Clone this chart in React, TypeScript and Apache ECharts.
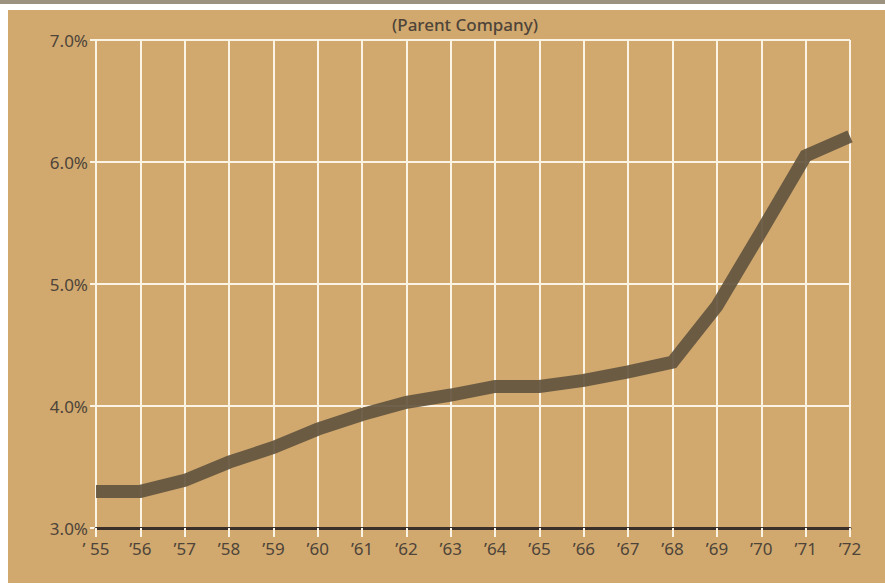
import React, { useEffect, useRef } from "react";
import * as echarts from "echarts";

const years = ["’ 55", "’56", "’57", "’58", "’59", "’60", "’61", "’62", "’63", "’64", "’65", "’66", "’67", "’68", "’69", "’70", "’71", "’72"];
const ratioValues = [3.3, 3.3, 3.39, 3.54, 3.66, 3.81, 3.93, 4.03, 4.09, 4.16, 4.16, 4.21, 4.28, 4.36, 4.82, 5.43, 6.05, 6.21];
const yTicks = [3, 4, 5, 6, 7];
const titleText = "(Parent Company)";

const FONT = "'Noto Sans', 'DejaVu Sans', sans-serif";
const TEXT = "#4e4439";
const GRIDC = "#fbf3e3";

export default function App() {
  const ref = useRef<HTMLDivElement>(null);
  useEffect(() => {
    document.body.style.margin = "0";
    const chart = echarts.init(ref.current!, undefined, { renderer: "svg" });
    chart.setOption({
      animation: false,
      backgroundColor: "#ffffff",
      graphic: [
        { type: "rect", z: -10, shape: { x: 0, y: 0, width: 885, height: 4 }, style: { fill: "#9d917f" } },
        { type: "rect", z: -10, shape: { x: 8, y: 10, width: 877, height: 573 }, style: { fill: "#d1a96f" } },
      ],
      title: {
        text: titleText,
        left: 460,
        top: 11,
        textAlign: "center",
        textStyle: { fontFamily: FONT, fontSize: 17, fontWeight: 500, color: TEXT },
      },
      grid: { left: 96, right: 35, top: 40, bottom: 58, containLabel: false },
      xAxis: {
        type: "category",
        data: years,
        boundaryGap: false,
        axisLine: { show: true, lineStyle: { color: "#3b2f2a", width: 3 } },
        axisTick: { show: true, length: 9, lineStyle: { color: GRIDC, width: 2 } },
        axisLabel: { fontFamily: FONT, fontSize: 17, color: TEXT, margin: 12 },
        splitLine: { show: true, lineStyle: { color: GRIDC, width: 2 } },
        z: 1,
      },
      yAxis: {
        type: "value",
        min: 3,
        max: 7,
        interval: 1,
        axisLine: { show: false },
        axisTick: { show: true, length: 6, lineStyle: { color: GRIDC, width: 2 } },
        axisLabel: {
          fontFamily: FONT,
          fontSize: 17,
          color: TEXT,
          margin: 8,
          formatter: (v: number) => (yTicks.includes(v) ? v.toFixed(1) + "%" : ""),
        },
        splitLine: { show: true, lineStyle: { color: GRIDC, width: 2 } },
      },
      series: [
        {
          type: "line",
          data: ratioValues,
          symbol: "none",
          lineStyle: { color: "#63553f", width: 13, opacity: 0.92, join: "miter" },
          z: 5,
        },
      ],
    });
    return () => chart.dispose();
  }, []);
  return <div ref={ref} style={{ width: 885, height: 586 }} />;
}
